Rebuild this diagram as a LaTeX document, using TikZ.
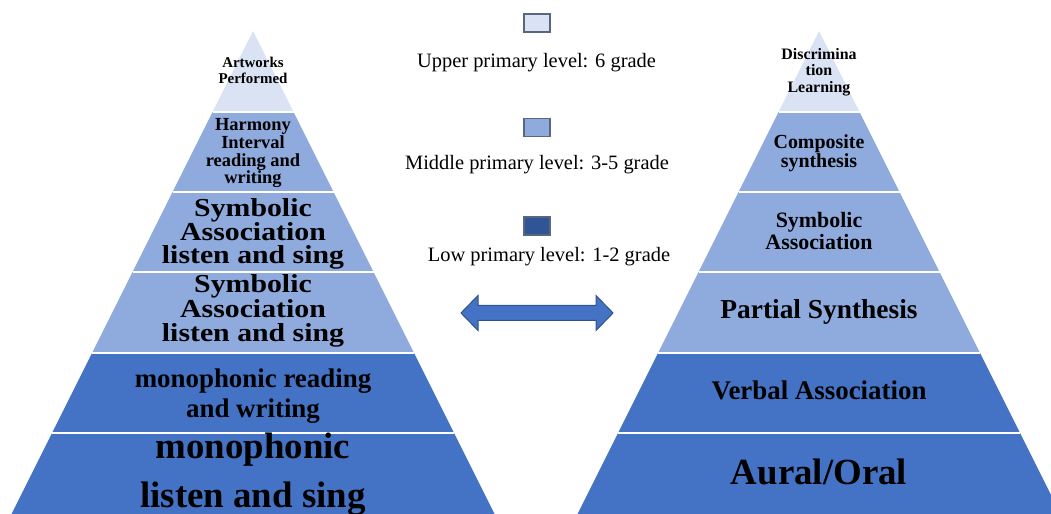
\documentclass[tikz,border=0pt]{standalone}
\usepackage{fontspec}
\setmainfont{Liberation Serif}
\newfontfamily\wideserif[FakeStretch=1.15]{Liberation Serif}
\definecolor{tlight}{HTML}{DAE3F3}
\definecolor{tmid}{HTML}{8FAADC}
\definecolor{tdark}{HTML}{4472C4}
\definecolor{ldark}{HTML}{2F5597}
\definecolor{lborder}{HTML}{5A6680}
\definecolor{aborder}{HTML}{2F528F}
\newcommand\tst{\rule{0pt}{0.8em}}
\begin{document}
\begin{tikzpicture}[x=1bp,y=-1bp,
  lbl/.style={inner sep=0, anchor=north, align=center},
  leg/.style={inner sep=0, anchor=base, font=\fontsize{20.5}{22}\selectfont},
  sq/.style={draw=lborder, line width=1.5bp, minimum width=26bp, minimum height=18bp, inner sep=0},
  sep/.style={white, line width=2bp},
  blockarrow/.style={fill=tdark, draw=aborder, line width=1bp, line join=miter}]
\useasboundingbox (0,0) rectangle (1051,514);
\clip (0,0) rectangle (1051,514);
\foreach \cx in {253,819}{
  \foreach \ya/\yb/\col in {31/112/tlight,112/192/tmid,192/272/tmid,272/353/tmid,353/433/tdark,433/520/tdark}{
    \fill[\col] ({\cx-0.5*(\ya-31)},\ya) -- ({\cx+0.5*(\ya-31)},\ya) -- ({\cx+0.5*(\yb-31)},\yb) -- ({\cx-0.5*(\yb-31)},\yb) -- cycle;
  }
  \foreach \y in {112,192,272,353,433}{
    \draw[sep] ({\cx-0.5*(\y-31)},\y) -- ({\cx+0.5*(\y-31)},\y);
  }
}
% left pyramid labels
\node[lbl, font=\bfseries\fontsize{15}{16}\selectfont] (l1) at (253,55) {\tst Artworks\\Performed};
\node[lbl, font=\bfseries\fontsize{18.5}{18}\selectfont] (l2) at (253,115.2) {\tst Harmony\\Interval\\reading and\\writing};
\node[lbl, font=\wideserif\bfseries\fontsize{26}{24}\selectfont] (l3) at (253,195.2) {\tst Symbolic\\Association\\listen and sing};
\node[lbl, font=\wideserif\bfseries\fontsize{26}{25}\selectfont] (l4) at (253,271.2) {\tst Symbolic\\Association\\listen and sing};
\node[lbl, font=\bfseries\fontsize{27}{30}\selectfont] (l5) at (253,365.4) {\tst monophonic reading\\and writing};
\node[lbl, font=\bfseries\fontsize{37}{50}\selectfont] (l6) at (253,428.4) {\tst monophonic\\listen and sing};
% right pyramid labels
\node[lbl, font=\bfseries\fontsize{16}{16.5}\selectfont] (r1) at (819,46.2) {\tst Discrimina\\tion\\Learning};
\node[lbl, font=\bfseries\fontsize{20}{19}\selectfont] (r2) at (819,132) {\tst Composite\\synthesis};
\node[lbl, font=\bfseries\fontsize{22}{22}\selectfont] (r3) at (819,209.4) {\tst Symbolic\\Association};
\node[lbl, font=\bfseries\fontsize{27.5}{30}\selectfont] (r4) at (819,296) {\tst Partial Synthesis};
\node[lbl, font=\bfseries\fontsize{27}{30}\selectfont] (r5) at (819,377.4) {\tst Verbal Association};
\node[lbl, font=\bfseries\fontsize{37}{40}\selectfont] (r6) at (819,454.4) {\tst Aural/Oral};
% legend
\node[sq, fill=tlight] (sqU) at (537,23) {};
\node[leg] (tU) at (536.5,68) {Upper primary level: 6 grade};
\node[sq, fill=tmid] (sqM) at (537,127.5) {};
\node[leg] (tM) at (537,170) {Middle primary level: 3-5 grade};
\node[sq, fill=ldark] (sqL) at (537,226) {};
\node[leg] (tL) at (549,262) {Low primary level: 1-2 grade};
% double block arrow
\draw[blockarrow] (461,313) -- (478,295.5) -- (478,305.5) -- (596,305.5) -- (596,295.5) -- (613,313)
  -- (596,330.5) -- (596,320.5) -- (478,320.5) -- (478,330.5) -- cycle;
\end{tikzpicture}
\end{document}
